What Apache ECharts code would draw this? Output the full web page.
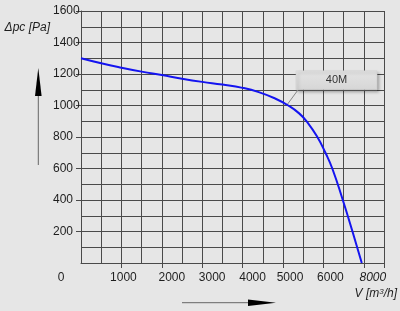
<!DOCTYPE html>
<html><head><meta charset="utf-8">
<script src="https://cdn.jsdelivr.net/npm/echarts@6/dist/echarts.min.js"></script>
<style>html,body{margin:0;padding:0;background:#e6e6e6}#c{width:400px;height:311px}</style>
</head><body><div id="c"></div>
<script>
// ---- data ----
const flowValues     = [0, 500, 1000, 1500, 2000, 2500, 3000, 3500, 4000, 4400, 4800, 5130, 5400, 5600, 5850, 6050, 6220, 6480, 6720, 6950];
const pressureValues = [1300, 1268, 1240, 1215, 1193, 1170, 1150, 1133, 1112, 1085, 1045, 1000, 950, 895, 800, 700, 600, 400, 200, 0];
const xTickValues = [0, 1000, 2000, 3000, 4000, 5000, 6000, 7000];
const xTickLabels = ['0', '1000', '2000', '3000', '4000', '5000', '6000', '8000'];
const yTickValues = [200, 400, 600, 800, 1000, 1200, 1400, 1600];
const yTickLabels = ['200', '400', '600', '800', '1000', '1200', '1400', '1600'];
const curveName = '40M';
const annotFlow = 5100;
const annotPressure = 1004;
const xAxisName = 'V [m{s|3}/h]';
const yAxisName = '\u0394pc [Pa]';

// ---- styling ----
const xLabelShift = [-20, 2, 10, 10, 10, 7, 7, 9];
const FONT = 'Liberation Sans, Arial, sans-serif';
const TXT = '#1e1e1e';
const GRIDC = '#4a4a4a';

const rich = {};
xLabelShift.forEach((s, i) => {
  rich['l' + i] = {
    fontSize: 12, fontFamily: FONT, color: TXT,
    fontStyle: i === xLabelShift.length - 1 ? 'italic' : 'normal',
    padding: s >= 0 ? [0, 0, 0, 2 * s] : [0, -2 * s, 0, 0]
  };
});

const chart = echarts.init(document.getElementById('c'));
const data = flowValues.map((f, i) => [f, pressureValues[i]]);

chart.setOption({
  animation: false,
  backgroundColor: '#e6e6e6',
  textStyle: { fontFamily: FONT },
  grid: { left: 81, right: 16, top: 11, bottom: 48, containLabel: false },
  xAxis: [
    { type: 'value', min: 0, max: 7500, interval: 500,
      axisLine: { show: true, lineStyle: { color: GRIDC, width: 1 } },
      axisTick: { show: false }, axisLabel: { show: false },
      splitLine: { show: true, lineStyle: { color: GRIDC, width: 1 } } },
    { type: 'value', min: 0, max: 7500, position: 'bottom',
      axisLine: { show: false },
      axisTick: { show: true, length: 5, customValues: [1000, 2000, 3000, 4000, 5000, 6000, 7000, 7500],
                  lineStyle: { color: GRIDC, width: 1 } },
      axisLabel: { show: true, customValues: xTickValues, margin: 9,
        formatter: (v) => { const i = xTickValues.indexOf(v); return i < 0 ? '' : '{l' + i + '|' + xTickLabels[i] + '}'; },
        rich: rich },
      splitLine: { show: false },
      name: xAxisName, nameLocation: 'end', nameGap: 13,
      nameTextStyle: { align: 'right', verticalAlign: 'middle', fontStyle: 'italic', fontSize: 12, color: TXT,
        padding: [61, 0, 0, 0],
        rich: { s: { fontSize: 8, fontStyle: 'italic', color: TXT, verticalAlign: 'top', lineHeight: 10 } } } }
  ],
  yAxis: [
    { type: 'value', min: 0, max: 1600, interval: 100,
      axisLine: { show: true, lineStyle: { color: GRIDC, width: 1 } },
      axisTick: { show: false }, axisLabel: { show: false },
      splitLine: { show: true, lineStyle: { color: GRIDC, width: 1 } } },
    { type: 'value', min: 0, max: 1600, position: 'left',
      axisLine: { show: false },
      axisTick: { show: true, length: 5, customValues: yTickValues, lineStyle: { color: GRIDC, width: 1 } },
      axisLabel: { show: true, customValues: yTickValues, margin: 28, align: 'left',
        fontSize: 12, color: TXT,
        formatter: (v) => { const i = yTickValues.indexOf(v); return i < 0 ? '' : yTickLabels[i]; } },
      splitLine: { show: false },
      name: yAxisName, nameLocation: 'end', nameGap: -17,
      nameTextStyle: { align: 'right', verticalAlign: 'middle', fontStyle: 'italic', fontSize: 12, color: TXT,
        padding: [0, 31, 0, 0] } }
  ],
  series: [{
    name: curveName, type: 'line', xAxisIndex: 0, yAxisIndex: 0,
    data: data, smooth: 0.5, showSymbol: false,
    lineStyle: { color: '#1414f0', width: 2 }
  }]
});

const p = chart.convertToPixel({ gridIndex: 0 }, [annotFlow, annotPressure]);
chart.setOption({
  graphic: [
    // vertical arrow
    { type: 'line', shape: { x1: 38.3, y1: 165, x2: 38.3, y2: 94 }, style: { stroke: '#666', lineWidth: 1 } },
    { type: 'polygon', shape: { points: [[38.3, 68], [35, 96], [41.6, 96]] }, style: { fill: '#000' } },
    // horizontal arrow
    { type: 'line', shape: { x1: 182, y1: 302.7, x2: 250, y2: 302.7 }, style: { stroke: '#666', lineWidth: 1 } },
    { type: 'polygon', shape: { points: [[276, 302.7], [248, 299.5], [248, 306]] }, style: { fill: '#000' } },
    // annotation
    { type: 'line', shape: { x1: p[0], y1: p[1], x2: p[0] + 11, y2: p[1] - 15 }, style: { stroke: '#888', lineWidth: 1 } },
    { type: 'rect', shape: { x: p[0] + 9, y: p[1] - 34, width: 81, height: 19 },
      style: { fill: new echarts.graphic.LinearGradient(0, 0, 0, 1, [{ offset: 0, color: '#e4e4e4' }, { offset: 1, color: '#d6d6d6' }]),
        stroke: '#cfcfcf', lineWidth: 0.5,
        shadowBlur: 3, shadowOffsetX: 2, shadowOffsetY: 2, shadowColor: 'rgba(0,0,0,0.35)' } },
    { type: 'text', x: p[0] + 49.5, y: p[1] - 24.5,
      style: { text: curveName, fontSize: 11, fontFamily: FONT, fill: '#333', align: 'center', verticalAlign: 'middle' } }
  ]
});
</script></body></html>
